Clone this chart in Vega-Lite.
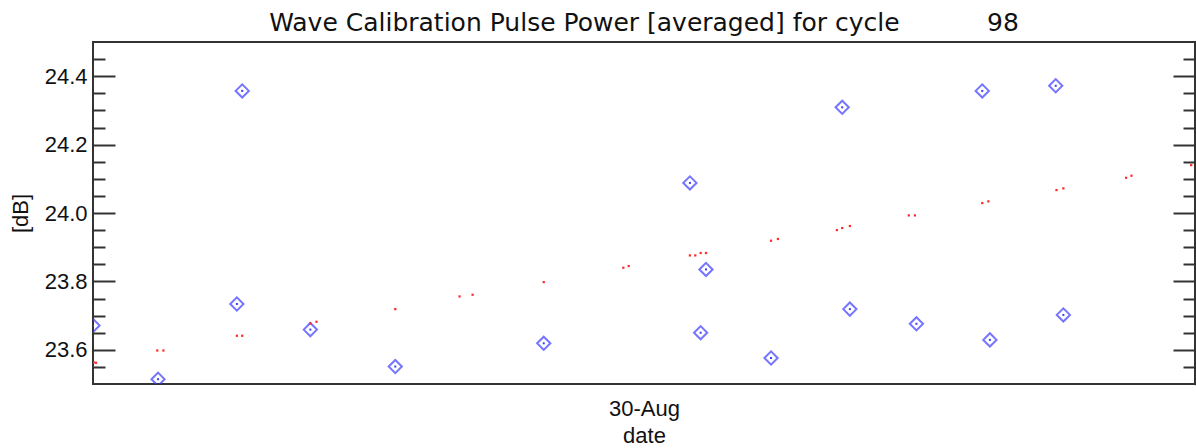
{
  "$schema": "https://vega.github.io/schema/vega-lite/v6.json",
  "width": 1102,
  "height": 342,
  "autosize": {"type": "none"},
  "padding": {"left": 93, "top": 42, "right": 1, "bottom": 64},
  "background": "white",
  "title": {
    "text": "Wave Calibration Pulse Power [averaged] for cycle\u00a0\u00a0\u00a0\u00a0\u00a0\u00a0\u00a0\u00a0\u00a0\u00a0\u00a098",
    "font": "DejaVu Sans",
    "fontSize": 25,
    "fontWeight": "normal",
    "color": "#111",
    "anchor": "middle",
    "frame": "group",
    "offset": -5
  },
  "config": {
    "view": {"stroke": "#333", "strokeWidth": 2},
    "axis": {"domain": false, "grid": false, "labelFont": "Liberation Sans", "titleFont": "Liberation Sans", "labelColor": "#111", "titleColor": "#111", "labelFontSize": 22, "titleFontSize": 22, "titleFontWeight": "normal", "tickColor": "#333", "tickWidth": 2}
  },
  "data": {
    "values": [
      {"time": "2010-08-29T12:00:00Z", "value": 23.671, "kind": "pulse"},
      {"time": "2010-08-29T13:25:00Z", "value": 23.514, "kind": "pulse"},
      {"time": "2010-08-29T15:08:00Z", "value": 23.734, "kind": "pulse"},
      {"time": "2010-08-29T15:15:00Z", "value": 24.357, "kind": "pulse"},
      {"time": "2010-08-29T16:44:00Z", "value": 23.659, "kind": "pulse"},
      {"time": "2010-08-29T18:35:00Z", "value": 23.551, "kind": "pulse"},
      {"time": "2010-08-29T21:49:00Z", "value": 23.619, "kind": "pulse"},
      {"time": "2010-08-30T01:00:00Z", "value": 24.088, "kind": "pulse"},
      {"time": "2010-08-30T01:14:00Z", "value": 23.650, "kind": "pulse"},
      {"time": "2010-08-30T01:21:00Z", "value": 23.835, "kind": "pulse"},
      {"time": "2010-08-30T02:46:00Z", "value": 23.576, "kind": "pulse"},
      {"time": "2010-08-30T04:19:00Z", "value": 24.309, "kind": "pulse"},
      {"time": "2010-08-30T04:29:00Z", "value": 23.719, "kind": "pulse"},
      {"time": "2010-08-30T05:56:00Z", "value": 23.676, "kind": "pulse"},
      {"time": "2010-08-30T07:22:00Z", "value": 24.357, "kind": "pulse"},
      {"time": "2010-08-30T07:32:00Z", "value": 23.629, "kind": "pulse"},
      {"time": "2010-08-30T08:58:00Z", "value": 24.372, "kind": "pulse"},
      {"time": "2010-08-30T09:08:00Z", "value": 23.702, "kind": "pulse"},
      {"time": "2010-08-29T12:01:00Z", "value": 23.563, "kind": "avg"},
      {"time": "2010-08-29T12:04:00Z", "value": 23.562, "kind": "avg"},
      {"time": "2010-08-29T13:24:00Z", "value": 23.598, "kind": "avg"},
      {"time": "2010-08-29T13:32:00Z", "value": 23.598, "kind": "avg"},
      {"time": "2010-08-29T15:08:00Z", "value": 23.641, "kind": "avg"},
      {"time": "2010-08-29T15:15:00Z", "value": 23.641, "kind": "avg"},
      {"time": "2010-08-29T16:44:00Z", "value": 23.677, "kind": "avg"},
      {"time": "2010-08-29T16:52:00Z", "value": 23.682, "kind": "avg"},
      {"time": "2010-08-29T18:35:00Z", "value": 23.719, "kind": "avg"},
      {"time": "2010-08-29T19:59:00Z", "value": 23.756, "kind": "avg"},
      {"time": "2010-08-29T20:16:00Z", "value": 23.761, "kind": "avg"},
      {"time": "2010-08-29T21:49:00Z", "value": 23.798, "kind": "avg"},
      {"time": "2010-08-29T23:33:00Z", "value": 23.840, "kind": "avg"},
      {"time": "2010-08-29T23:40:00Z", "value": 23.845, "kind": "avg"},
      {"time": "2010-08-30T01:00:00Z", "value": 23.876, "kind": "avg"},
      {"time": "2010-08-30T01:07:00Z", "value": 23.876, "kind": "avg"},
      {"time": "2010-08-30T01:14:00Z", "value": 23.883, "kind": "avg"},
      {"time": "2010-08-30T01:21:00Z", "value": 23.883, "kind": "avg"},
      {"time": "2010-08-30T02:46:00Z", "value": 23.919, "kind": "avg"},
      {"time": "2010-08-30T02:55:00Z", "value": 23.924, "kind": "avg"},
      {"time": "2010-08-30T04:12:00Z", "value": 23.950, "kind": "avg"},
      {"time": "2010-08-30T04:19:00Z", "value": 23.956, "kind": "avg"},
      {"time": "2010-08-30T04:29:00Z", "value": 23.962, "kind": "avg"},
      {"time": "2010-08-30T05:46:00Z", "value": 23.993, "kind": "avg"},
      {"time": "2010-08-30T05:54:00Z", "value": 23.993, "kind": "avg"},
      {"time": "2010-08-30T07:22:00Z", "value": 24.029, "kind": "avg"},
      {"time": "2010-08-30T07:30:00Z", "value": 24.034, "kind": "avg"},
      {"time": "2010-08-30T08:59:00Z", "value": 24.067, "kind": "avg"},
      {"time": "2010-08-30T09:08:00Z", "value": 24.072, "kind": "avg"},
      {"time": "2010-08-30T10:30:00Z", "value": 24.103, "kind": "avg"},
      {"time": "2010-08-30T10:37:00Z", "value": 24.109, "kind": "avg"},
      {"time": "2010-08-30T11:55:00Z", "value": 24.140, "kind": "avg"}
    ]
  },
  "encoding": {
    "x": {
      "field": "time",
      "type": "temporal",
      "scale": {"type": "utc", "domain": [{"year": 2010, "month": 8, "date": 29, "hours": 12, "utc": true}, {"year": 2010, "month": 8, "date": 30, "hours": 12, "utc": true}]},
      "axis": {"title": "date", "values": [{"year": 2010, "month": 8, "date": 30, "utc": true}], "labelExpr": "utcFormat(datum.value, '%d-%b')", "ticks": false, "labelPadding": 14, "titlePadding": 6}
    }
  },
  "layer": [
    {
      "transform": [{"filter": "datum.kind == 'pulse'"}],
      "mark": {"type": "point", "shape": "diamond", "filled": false, "color": "#3b3bff", "size": 175, "strokeWidth": 2, "clip": true},
      "encoding": {
        "y": {
          "field": "value", "type": "quantitative",
          "scale": {"domain": [23.5, 24.5], "nice": false, "zero": false},
          "axis": {
            "title": "[dB]", "orient": "left",
            "values": [23.55, 23.6, 23.65, 23.7, 23.75, 23.8, 23.85, 23.9, 23.95, 24.0, 24.05, 24.1, 24.15, 24.2, 24.25, 24.3, 24.35, 24.4, 24.45],
            "tickSize": {"condition": {"test": "abs(datum.value*5 - round(datum.value*5)) < 0.01", "value": -22}, "value": -12},
            "labelExpr": "abs(datum.value*5 - round(datum.value*5)) < 0.01 ? format(datum.value, '.1f') : ''",
            "labelPadding": 28,
            "titlePadding": 12
          }
        }
      }
    },
    {
      "transform": [{"filter": "datum.kind == 'pulse'"}],
      "mark": {"type": "square", "color": "#3b3bff", "size": 4, "opacity": 1, "clip": true},
      "encoding": {"y": {"field": "value", "type": "quantitative"}}
    },
    {
      "transform": [{"filter": "datum.kind == 'avg'"}],
      "mark": {"type": "square", "color": "#ff2a2a", "size": 5, "opacity": 1, "clip": true},
      "encoding": {
        "y": {
          "field": "value", "type": "quantitative",
          "axis": {
            "title": null, "orient": "right", "labels": false,
            "values": [23.55, 23.6, 23.65, 23.7, 23.75, 23.8, 23.85, 23.9, 23.95, 24.0, 24.05, 24.1, 24.15, 24.2, 24.25, 24.3, 24.35, 24.4, 24.45],
            "tickSize": {"condition": {"test": "abs(datum.value*5 - round(datum.value*5)) < 0.01", "value": -22}, "value": -12}
          }
        }
      }
    }
  ],
  "resolve": {"axis": {"y": "independent"}}
}
